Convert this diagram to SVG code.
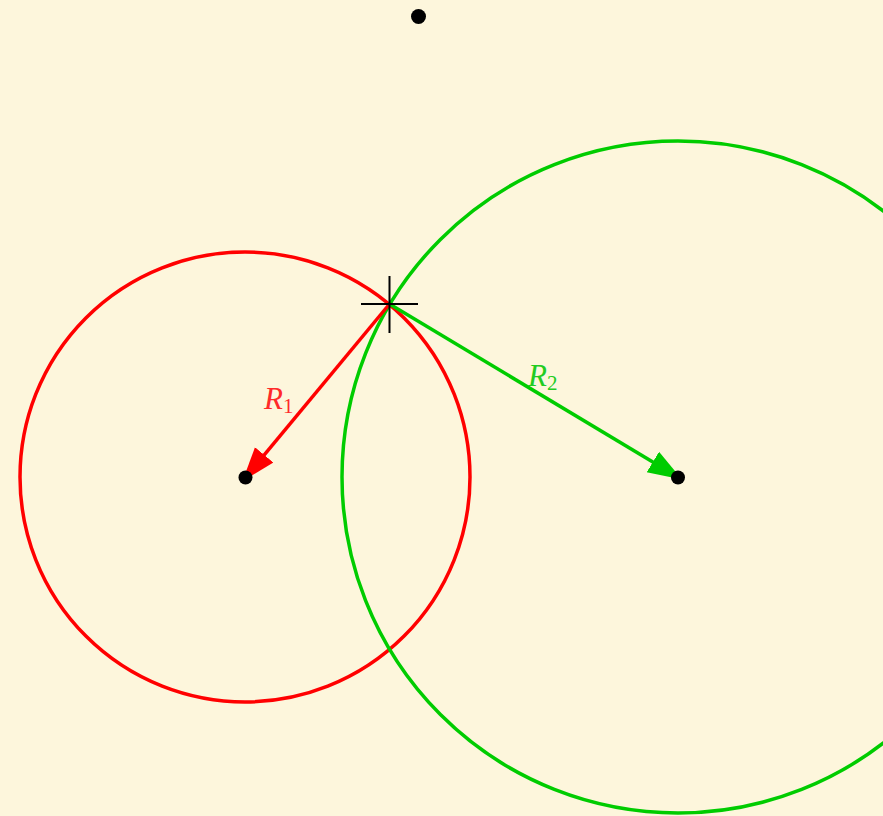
<svg xmlns="http://www.w3.org/2000/svg" width="883" height="816" viewBox="0 0 883 816">
<style>
.lbl{font-family:"Liberation Serif","DejaVu Serif",serif;font-style:italic;font-size:31px}
.sub{font-family:"Liberation Serif","DejaVu Serif",serif;font-style:normal;font-size:21px}
.dot{fill:#000}
</style>
<defs>
<marker id="arrR" markerUnits="userSpaceOnUse" markerWidth="36" markerHeight="26" refX="34" refY="12" orient="auto">
<path d="M0,0 L34,12 L0,24 z" fill="#ff0000"/>
</marker>
<marker id="arrG" markerUnits="userSpaceOnUse" markerWidth="36" markerHeight="26" refX="34" refY="12" orient="auto">
<path d="M0,0 L34,12 L0,24 z" fill="#00cc00"/>
</marker>
</defs>
<rect width="883" height="816" fill="#fdf6dc"/>
<g id="circle1"><circle cx="245" cy="477" r="225" fill="none" stroke="#ff0000" stroke-width="3.5"/></g>
<g id="circle2"><circle cx="678" cy="477" r="336" fill="none" stroke="#00cc00" stroke-width="3.5"/></g>
<g id="connectors">
<line x1="389.5" y1="304" x2="242.5" y2="481" stroke="#ff0000" stroke-width="3.5" marker-end="url(#arrR)"/>
<line x1="389.5" y1="304" x2="682" y2="479.5" stroke="#00cc00" stroke-width="3.5" marker-end="url(#arrG)"/>
</g>
<g id="center1"><circle class="dot" cx="245.5" cy="477.5" r="7"/></g>
<g id="center2"><circle class="dot" cx="678" cy="477.5" r="7"/></g>
<g id="topdot"><circle class="dot" cx="418.5" cy="16.5" r="7.5"/></g>
<g id="intersection">
<path d="M361,304 H418 M389.5,276 V333" stroke="#000" stroke-width="2" fill="none"/>
</g>
<g id="labelR1"><text class="lbl" x="264" y="409" fill="#ff2a2a">R<tspan class="sub" dy="4">1</tspan></text></g>
<g id="labelR2"><text class="lbl" x="528" y="386" fill="#22cc22">R<tspan class="sub" dy="4">2</tspan></text></g>
</svg>
